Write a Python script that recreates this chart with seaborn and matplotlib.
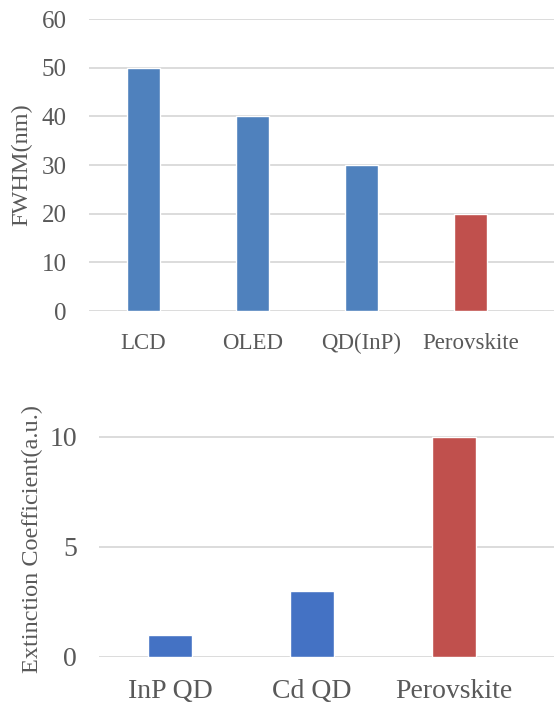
import matplotlib
matplotlib.use("Agg")
import matplotlib.pyplot as plt
import seaborn as sns
import pandas as pd

# Top chart data
fwhm_cats = ["LCD", "OLED", "QD(InP)", "Perovskite"]
fwhm_vals = [50, 40, 30, 20]
fwhm_colors = ["#4F81BD", "#4F81BD", "#4F81BD", "#C0504D"]

# Bottom chart data
ext_cats = ["InP QD", "Cd QD", "Perovskite"]
ext_vals = [1, 3, 10]
ext_colors = ["#4472C4", "#4472C4", "#C0504D"]

sns.set_theme(style="white")
plt.rcParams["font.family"] = ["Liberation Serif", "DejaVu Serif"]

TXT = "#595959"
GRID = "#D9D9D9"

fig = plt.figure(figsize=(5.54, 7.05), dpi=100)
W, H = 554, 705

def px_axes(l, t, r, b):
    return fig.add_axes([l / W, 1 - b / H, (r - l) / W, (b - t) / H])

# ---- Top chart ----
ax1 = px_axes(89, 19, 554, 311)
df1 = pd.DataFrame({"cat": fwhm_cats, "val": fwhm_vals})
sns.barplot(data=df1, x="cat", y="val", hue="cat",
            palette=dict(zip(fwhm_cats, fwhm_colors)),
            width=0.3, legend=False, ax=ax1, saturation=1, zorder=3)
ax1.set_ylim(0, 60)
ax1.set_yticks([0, 10, 20, 30, 40, 50, 60])
ax1.set_xlim(-0.5, (554 - 89) / 109 - 0.5)
ax1.set_xlabel("")
ax1.set_ylabel("FWHM(nm)", fontsize=17.5, color=TXT)
ax1.yaxis.set_label_coords(-(89 - 32) / (554 - 89), (311 - 165) / (311 - 19))
ax1.tick_params(axis="y", labelsize=18, colors=TXT, length=0, pad=16)
ax1.tick_params(axis="x", labelsize=16.5, colors=TXT, length=0, pad=16)
for s in ax1.spines.values():
    s.set_visible(False)
ax1.grid(axis="y", color=GRID, linewidth=1.3, zorder=0)
ax1.set_axisbelow(True)

# ---- Bottom chart ----
ax2 = px_axes(99, 393, 554, 657)
df2 = pd.DataFrame({"cat": ext_cats, "val": ext_vals})
sns.barplot(data=df2, x="cat", y="val", hue="cat",
            palette=dict(zip(ext_cats, ext_colors)),
            width=0.31, legend=False, ax=ax2, saturation=1, zorder=3)
ax2.set_ylim(0, 12)
ax2.set_yticks([0, 5, 10])
ax2.set_xlim(-0.5, (554 - 99) / 142 - 0.5)
ax2.set_xlabel("")
ax2.set_ylabel("Extinction Coefficient(a.u.)", fontsize=17.5, color=TXT)
ax2.yaxis.set_label_coords(-(99 - 43) / (554 - 99), (657 - 539) / (657 - 393))
ax2.tick_params(axis="y", labelsize=20, colors=TXT, length=0, pad=16)
ax2.tick_params(axis="x", labelsize=20, colors=TXT, length=0, pad=16)
for s in ax2.spines.values():
    s.set_visible(False)
ax2.grid(axis="y", color=GRID, linewidth=1.3, zorder=0)
ax2.set_axisbelow(True)

fig.savefig("out.png", dpi=100)
